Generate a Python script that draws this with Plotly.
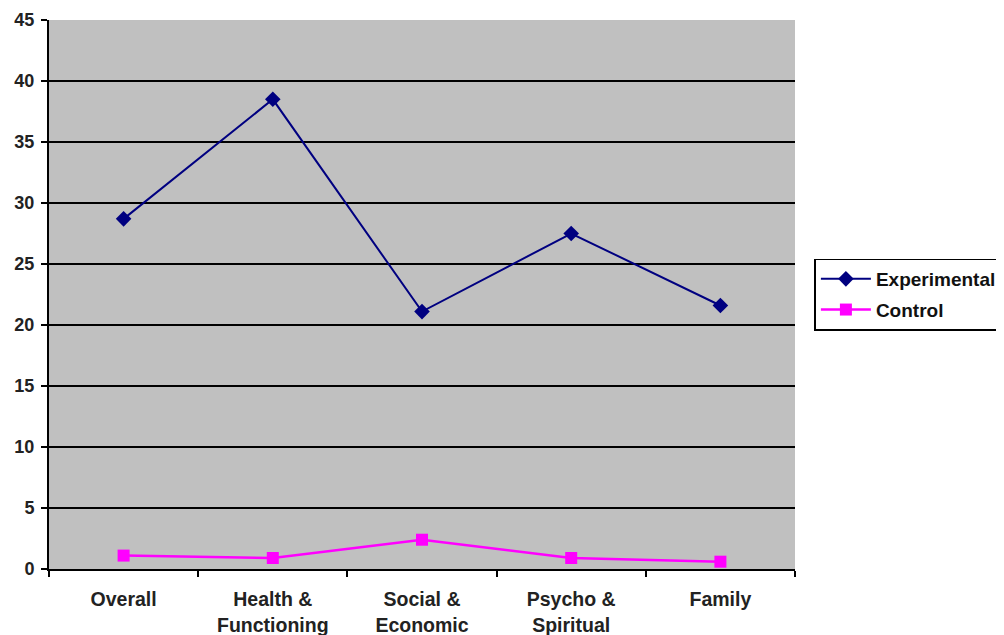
import plotly.graph_objects as go

categories = ["Overall", "Health &<br>Functioning", "Social &<br>Economic", "Psycho &<br>Spiritual", "Family"]
experimental = [28.7, 38.5, 21.1, 27.5, 21.6]
control = [1.1, 0.9, 2.4, 0.9, 0.6]
y_ticks = [0, 5, 10, 15, 20, 25, 30, 35, 40, 45]

FONT = "Liberation Sans, Arial, sans-serif"

fig = go.Figure()
fig.add_trace(go.Scatter(
    x=categories, y=experimental, name="Experimental", mode="lines+markers",
    legendgroup="a",
    line=dict(color="#000080", width=2),
    marker=dict(symbol="diamond", size=12, color="#000080"),
))
fig.add_trace(go.Scatter(
    x=categories, y=control, name="Control", mode="lines+markers",
    legendgroup="b",
    line=dict(color="#ff00ff", width=2.5),
    marker=dict(symbol="square", size=12, color="#ff00ff"),
))

fig.update_layout(
    width=1004, height=635,
    margin=dict(l=41, r=217, t=12, b=74, autoexpand=False),
    paper_bgcolor="white", plot_bgcolor="#c0c0c0",
    font=dict(family=FONT, size=19, color="#222222"),
    showlegend=True,
    legend=dict(
        x=1.026, y=0.5, xanchor="left", yanchor="middle",
        bordercolor="black", borderwidth=1.5, bgcolor="white",
        font=dict(family=FONT, size=19, color="#111111", weight="bold"),
        traceorder="grouped", tracegroupgap=3, itemwidth=50,
    ),
)
fig.update_xaxes(
    type="category", range=[-0.5, 4.5], tickson="boundaries", automargin=False,
    ticks="outside", ticklen=6, tickwidth=2, tickcolor="black",
    showline=True, linecolor="black", linewidth=2, showgrid=False,
    ticklabelstandoff=12,
    tickfont=dict(family=FONT, size=19.5, color="#222222", weight="bold"),
)
fig.update_yaxes(
    range=[0, 45], tickvals=y_ticks, automargin=False,
    ticks="outside", ticklen=6, tickwidth=2, tickcolor="black",
    showline=True, linecolor="black", linewidth=2,
    showgrid=True, gridcolor="black", gridwidth=2, zeroline=False,
    ticklabelstandoff=3,
    tickfont=dict(family=FONT, size=18, color="#222222", weight="bold"),
)
fig.write_html("out.html")
